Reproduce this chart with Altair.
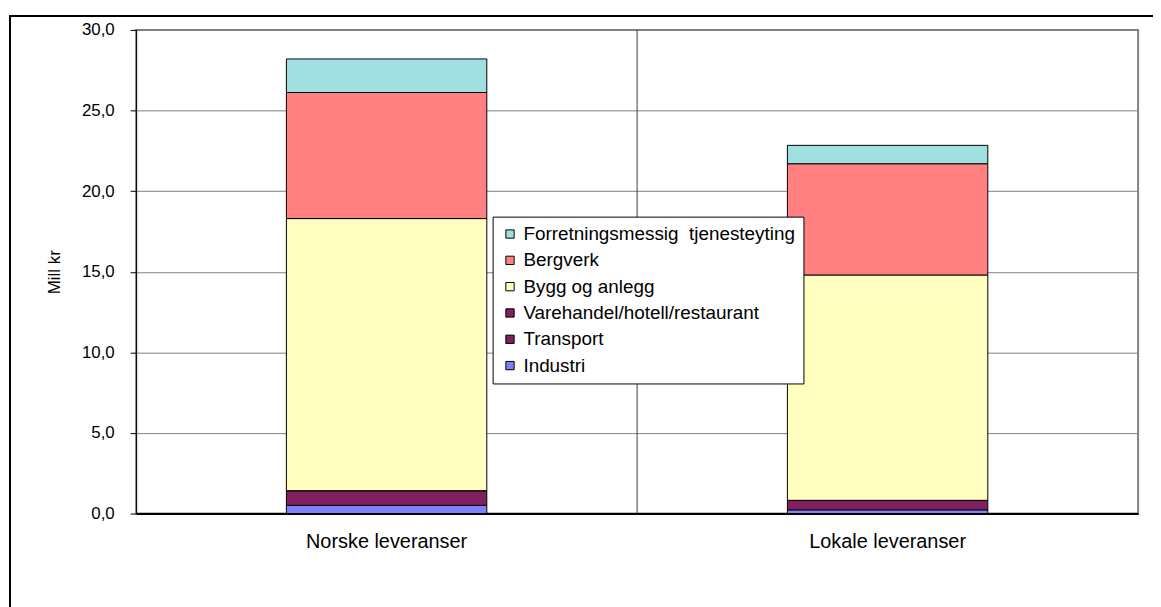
import altair as alt
import pandas as pd

categories = ["Norske leveranser", "Lokale leveranser"]
series = ["Industri", "Transport", "Varehandel/hotell/restaurant",
          "Bygg og anlegg", "Bergverk", "Forretningsmessig\u00a0 tjenesteyting"]
industri = [0.51, 0.23]
transport = [0.91, 0.59]
varehandel = [0.0, 0.0]
bygg = [16.88, 13.98]
bergverk = [7.82, 6.90]
forretning = [2.08, 1.14]
colors = ["#8080FF", "#802060", "#802060", "#FFFFC0", "#FF8080", "#A0E0E0"]

values = [industri, transport, varehandel, bygg, bergverk, forretning]
rows = []
for si, (s, vals) in enumerate(zip(series, values)):
    for ci, c in enumerate(categories):
        rows.append({"cat": c, "series": s, "value": vals[ci], "ord": si})
df = pd.DataFrame(rows)

W, H = 1009, 487

legend_order = list(reversed(series))

bars = alt.Chart(df).mark_bar(stroke="black", strokeWidth=1).encode(
    x=alt.X("cat:N", sort=categories, title=None,
            scale=alt.Scale(paddingInner=0.6, paddingOuter=0.3),
            axis=alt.Axis(labelAngle=0, labelFontSize=20, labelColor="black",
                          labelFont="Liberation Sans", labelPadding=18,
                          ticks=False, domain=True, domainColor="black",
                          domainWidth=2, grid=False)),
    y=alt.Y("value:Q", stack="zero", title="Mill kr",
            scale=alt.Scale(domain=[0, 30], nice=False),
            axis=alt.Axis(values=[0, 5, 10, 15, 20, 25, 30],
                          labelExpr="replace(format(datum.value, '.1f'), '.', ',')",
                          labelFontSize=17, labelColor="black",
                          labelFont="Liberation Sans", labelPadding=16,
                          tickSize=6, tickColor="black",
                          domainColor="black", gridColor="#808080",
                          titleFont="Liberation Sans", titleFontSize=17,
                          titleFontWeight="normal", titleColor="black",
                          titlePadding=18)),
    color=alt.Color("series:N",
                    scale=alt.Scale(domain=series, range=colors),
                    sort=legend_order,
                    legend=alt.Legend(title=None, orient="none",
                                      legendX=359, legendY=188,
                                      values=legend_order,
                                      symbolType="square", symbolSize=70,
                                      symbolStrokeColor="black",
                                      symbolStrokeWidth=1,
                                      labelFontSize=19, labelFont="Liberation Sans",
                                      labelColor="black", rowPadding=6.5,
                                      fillColor="white", strokeColor="black",
                                      padding=8, labelLimit=500)),
    order=alt.Order("ord:Q", sort="ascending"),
)

divider = alt.Chart(pd.DataFrame({"d": [0]})).mark_rule(
    color="#404040", strokeWidth=1).encode(
    x=alt.value(W / 2), y=alt.value(0), y2=alt.value(H))

frame = alt.Chart(pd.DataFrame({"d": [0]})).mark_rect(
    fill=None, stroke="black", strokeWidth=2).encode(
    x=alt.value(-127), x2=alt.value(W + 40), y=alt.value(-14), y2=alt.value(H + 200))

chart = alt.layer(bars, divider, frame).properties(
    width=W, height=H,
    autosize=alt.AutoSizeParams(type="none"),
    padding={"left": 129, "top": 20, "right": 15, "bottom": 92},
).configure_view(stroke="#808080", strokeWidth=2)

chart.save("out.html", embed_options={"renderer": "svg", "actions": False})
